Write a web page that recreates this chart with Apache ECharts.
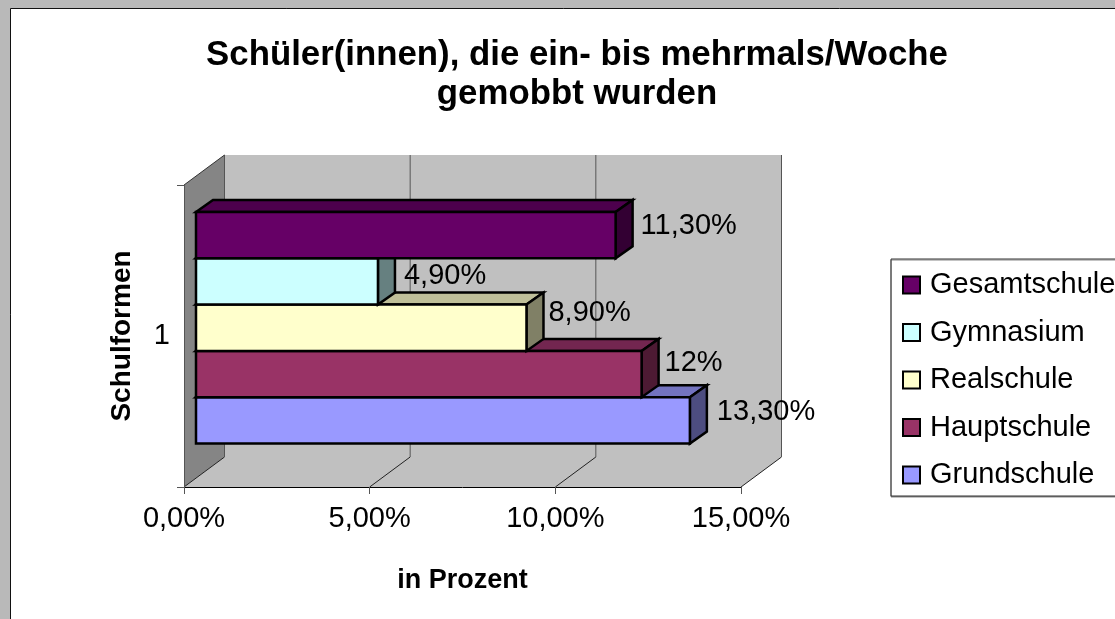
<!DOCTYPE html>
<html>
<head>
<meta charset="utf-8">
<style>
  html, body { margin: 0; padding: 0; background: #fff; }
  #chart { width: 1115px; height: 619px; }
</style>
<script src="https://cdn.jsdelivr.net/npm/echarts@6/dist/echarts.min.js"></script>
</head>
<body>
<div id="chart"></div>
<script>
var categories = ['1'];
var schools = ['Gesamtschule', 'Gymnasium', 'Realschule', 'Hauptschule', 'Grundschule'];
var values = [11.3, 4.9, 8.9, 12, 13.3];
var valueLabels = ['11,30%', '4,90%', '8,90%', '12%', '13,30%'];
var xTicks = [0, 5, 10, 15];

var frontColors = ['#660066', '#ccffff', '#ffffcc', '#993366', '#9999ff'];
var topColors = ['#4d004d', '#99bfbf', '#bfbf99', '#732650', '#7373bf'];
var sideColors = ['#330033', '#668080', '#808066', '#4d1a33', '#4d4d80'];
// hand placed in the original, so each label has its own nudge
var labelNudges = [[8, -9], [9, -5], [5, -15], [6, -11], [10, -8]];

var font = '"Liberation Sans", Arial, sans-serif';
var wallDx = 40.5, wallDy = -30;
var barDx = 17, barDy = -12;
var barInset = 12, barHeight = 46.3, barsTop = 27;

function poly(points, fill, stroke, width) {
  return {
    type: 'polygon',
    shape: { points: points },
    style: { fill: fill, stroke: stroke || null, lineWidth: width || 0 }
  };
}

function line(x1, y1, x2, y2, color) {
  return {
    type: 'line',
    shape: { x1: x1, y1: y1, x2: x2, y2: y2 },
    style: { stroke: color, lineWidth: 1 }
  };
}

function renderWalls(params, api) {
  var zero = api.coord([0, 0]);
  var end = api.coord([15, 0]);
  var band = api.size([0, 1])[1];
  var top = zero[1] - band / 2;
  var bottom = zero[1] + band / 2;
  var x0 = zero[0], x1 = end[0];
  var kids = [
    poly([[x0 + wallDx, top + wallDy], [x1 + wallDx, top + wallDy], [x1 + wallDx, bottom + wallDy], [x0 + wallDx, bottom + wallDy]], '#c0c0c0'),
    poly([[x0, bottom], [x0 + wallDx, bottom + wallDy], [x1 + wallDx, bottom + wallDy], [x1, bottom]], '#c0c0c0'),
    poly([[x0, top], [x0 + wallDx, top + wallDy], [x0 + wallDx, bottom + wallDy], [x0, bottom]], '#858585')
  ];
  xTicks.forEach(function (t) {
    var x = api.coord([t, 0])[0];
    kids.push(line(x, bottom, x + wallDx, bottom + wallDy, '#222'));
    kids.push(line(x + wallDx, top + wallDy, x + wallDx, bottom + wallDy, '#555'));
  });
  kids.push(line(x0, top, x0 + wallDx, top + wallDy, '#333'));
  return { type: 'group', children: kids };
}

function barRenderer(i) {
  return function (params, api) {
    var zero = api.coord([0, 0]);
    var band = api.size([0, 1])[1];
    var bandTop = zero[1] - band / 2;
    var l = zero[0] + barInset;
    var r = api.coord([api.value(0), 0])[0] + barInset;
    var t = bandTop + barsTop + i * barHeight;
    var b = t + barHeight;
    return {
      type: 'group',
      children: [
        poly([[l, t], [l + barDx, t + barDy], [r + barDx, t + barDy], [r, t]], topColors[i], '#000', 2.5),
        poly([[r, t], [r + barDx, t + barDy], [r + barDx, b + barDy], [r, b]], sideColors[i], '#000', 2.5),
        poly([[l, t], [r, t], [r, b], [l, b]], frontColors[i], '#000', 2.5)
      ]
    };
  };
}

// labels go in their own series so no bar can paint over them
function labelRenderer(i) {
  return function (params, api) {
    var zero = api.coord([0, 0]);
    var band = api.size([0, 1])[1];
    var bandTop = zero[1] - band / 2;
    var r = api.coord([api.value(0), 0])[0] + barInset;
    var t = bandTop + barsTop + i * barHeight;
    var nudge = labelNudges[i];
    return {
      type: 'text',
      style: {
        x: r + barDx + nudge[0],
        y: t + barHeight / 2 + nudge[1],
        text: valueLabels[i],
        fill: '#000',
        font: '29px ' + font,
        verticalAlign: 'middle'
      }
    };
  };
}

var seriesList = [{
  name: 'walls',
  type: 'custom',
  silent: true,
  z: 1,
  renderItem: renderWalls,
  data: [[0]]
}];
schools.forEach(function (name, i) {
  seriesList.push({
    name: name,
    type: 'custom',
    silent: true,
    // lower bars are painted first, each bar then hides the top face below it
    z: 2 + schools.length - i,
    itemStyle: { color: frontColors[i] },
    renderItem: barRenderer(i),
    encode: { x: 0, y: 1 },
    data: [[values[i], 0]]
  });
  seriesList.push({
    name: name + ' label',
    type: 'custom',
    silent: true,
    z: 15,
    renderItem: labelRenderer(i),
    encode: { x: 0, y: 1 },
    data: [[values[i], 0]]
  });
});

var myChart = echarts.init(document.getElementById('chart'));
myChart.setOption({
  animation: false,
  backgroundColor: '#fff',
  textStyle: { fontFamily: font },
  graphic: [
    { type: 'rect', z: -10, shape: { x: 0, y: 0, width: 1115, height: 619 }, style: { fill: '#b9b9b9' } },
    { type: 'rect', z: -9, shape: { x: 10.5, y: 8.5, width: 1120, height: 620 }, style: { fill: '#fff', stroke: '#111', lineWidth: 1 } }
  ],
  title: {
    text: 'Schüler(innen), die ein- bis mehrmals/Woche\ngemobbt wurden',
    left: 572,
    top: 31,
    textAlign: 'center',
    textStyle: { fontFamily: font, fontSize: 34.8, fontWeight: 'bold', color: '#000', lineHeight: 39 }
  },
  legend: {
    orient: 'vertical',
    left: 891,
    top: 259,
    data: schools,
    icon: 'rect',
    itemWidth: 17,
    itemHeight: 17,
    itemGap: 18.5,
    padding: [11.5, 60, 6.5, 11],
    backgroundColor: '#fff',
    borderColor: '#333',
    borderWidth: 1,
    shadowColor: '#888',
    shadowOffsetY: 1,
    shadowBlur: 0,
    selectedMode: false,
    itemStyle: { borderColor: '#000', borderWidth: 2 },
    textStyle: { fontFamily: font, fontSize: 29, color: '#000', padding: [0, 0, 0, 5] }
  },
  grid: { left: 184, top: 185, width: 557, height: 302 },
  xAxis: {
    type: 'value',
    min: 0,
    max: 15,
    interval: 5,
    z: 20,
    name: 'in Prozent',
    nameLocation: 'middle',
    nameGap: 80,
    nameTextStyle: { fontFamily: font, fontSize: 27, fontWeight: 'bold', color: '#000' },
    axisLine: { show: true, lineStyle: { color: '#000', width: 1 } },
    axisTick: { show: true, length: 7, lineStyle: { color: '#555' } },
    splitLine: { show: false },
    axisLabel: {
      color: '#000',
      fontSize: 29,
      margin: 17,
      formatter: function (v) { return v.toFixed(2).replace('.', ',') + '%'; }
    }
  },
  yAxis: {
    type: 'category',
    data: categories,
    z: 20,
    name: 'Schulformen',
    nameLocation: 'middle',
    nameGap: 48,
    nameRotate: 90,
    nameTextStyle: { fontFamily: font, fontSize: 28, fontWeight: 'bold', color: '#000' },
    axisLine: { show: true, lineStyle: { color: '#555', width: 1 } },
    axisTick: { show: true, length: 7, lineStyle: { color: '#555' } },
    axisLabel: { color: '#000', fontSize: 29, margin: 14 }
  },
  series: seriesList
}, true);
</script>
</body>
</html>
